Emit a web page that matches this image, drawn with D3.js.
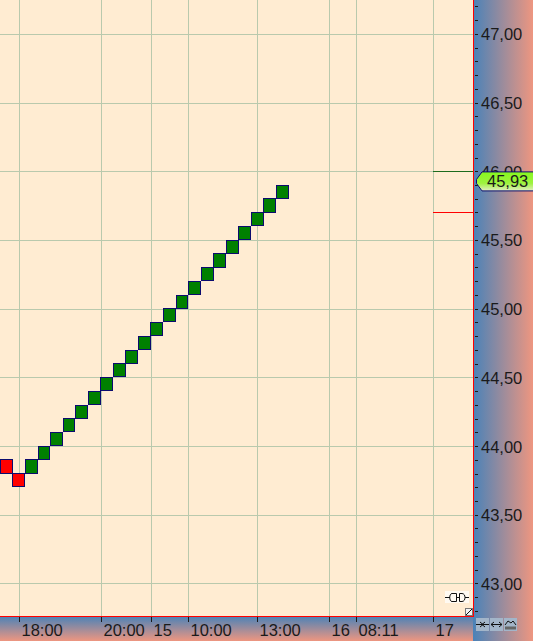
<!DOCTYPE html>
<html>
<head>
<meta charset="utf-8">
<script src="https://cdn.jsdelivr.net/npm/d3@7"></script>
<style>
body { margin: 0; background: #fff; }
svg { display: block; }
text { font-family: "Liberation Sans", sans-serif; fill: #1a1a1a; }
</style>
</head>
<body>
<script>
// point & figure boxes, left to right
var boxValues = [43.85, 43.75, 43.85, 43.95, 44.05, 44.15, 44.25, 44.35, 44.45, 44.55, 44.65, 44.75,
    44.85, 44.95, 45.05, 45.15, 45.25, 45.35, 45.45, 45.55, 45.65, 45.75, 45.85];
var boxColors = ["red", "red", "green", "green", "green", "green", "green", "green", "green", "green", "green", "green",
    "green", "green", "green", "green", "green", "green", "green", "green", "green", "green", "green"];

var priceTicks = [43, 43.5, 44, 44.5, 45, 45.5, 46, 46.5, 47];
var minorTicks = d3.range(428, 476).map(function(d) { return d / 10; });

// time axis, positions are in box numbers
var timePos = [1, 7.57, 11.55, 14.5, 20, 25.74, 27.9, 34];
var timeLabels = ["18:00", "20:00", "15", "10:00", "13:00", "16", "08:11", "17"];

var lastPrice = 45.93;
var levelValues = [46.0, 45.7];
var levelColors = ["#1d6b1d", "#ff0000"];

var width = 533, height = 641;
var plotRight = 473, plotBottom = 616;

var x = d3.scaleLinear().domain([0, 22]).range([6.3, 282.4]);
var y = d3.scaleLinear().domain([43, 47]).range([583.9, 34.4]);

// pixel row of a price line
function rowY(v) {
    return Math.floor(y(v)) + 0.5;
}

var svg = d3.select("body").append("svg")
    .attr("width", width)
    .attr("height", height);

var defs = svg.append("defs");

var sideGrad = defs.append("linearGradient").attr("id", "sideGrad");
sideGrad.append("stop").attr("offset", "0%").attr("stop-color", "#4a82b8");
sideGrad.append("stop").attr("offset", "100%").attr("stop-color", "#ee9680");

var bottomGrad = defs.append("linearGradient").attr("id", "bottomGrad")
    .attr("x2", 0).attr("y2", 1);
bottomGrad.append("stop").attr("offset", "0%").attr("stop-color", "#4a82b8");
bottomGrad.append("stop").attr("offset", "100%").attr("stop-color", "#ee9680");

var labelGrad = defs.append("linearGradient").attr("id", "labelGrad")
    .attr("x2", 0).attr("y2", 1);
labelGrad.append("stop").attr("offset", "0%").attr("stop-color", "#86f81e");
labelGrad.append("stop").attr("offset", "60%").attr("stop-color", "#9ef23e");
labelGrad.append("stop").attr("offset", "100%").attr("stop-color", "#e4eec4");

// backgrounds
svg.append("rect")
    .attr("width", plotRight).attr("height", plotBottom)
    .attr("fill", "#ffecd2");
svg.append("rect")
    .attr("y", plotBottom).attr("width", plotRight + 1).attr("height", height - plotBottom)
    .attr("fill", "url(#bottomGrad)");
svg.append("rect")
    .attr("x", plotRight).attr("width", width - plotRight).attr("height", height)
    .attr("fill", "url(#sideGrad)");

// grid
svg.selectAll(".hgrid")
    .data(priceTicks)
    .enter()
    .append("line")
    .attr("class", "hgrid")
    .attr("x1", 0).attr("x2", plotRight)
    .attr("y1", rowY)
    .attr("y2", rowY)
    .attr("stroke", "#b9c9ad");

svg.selectAll(".vgrid")
    .data(timePos)
    .enter()
    .append("line")
    .attr("class", "vgrid")
    .attr("x1", function(d) { return Math.round(x(d)) + 0.5; })
    .attr("x2", function(d) { return Math.round(x(d)) + 0.5; })
    .attr("y1", 0).attr("y2", plotBottom)
    .attr("stroke", "#b9c9ad");

// level lines at the right
svg.selectAll(".level")
    .data(levelValues)
    .enter()
    .append("line")
    .attr("class", "level")
    .attr("x1", 433).attr("x2", plotRight)
    .attr("y1", rowY)
    .attr("y2", rowY)
    .attr("stroke", function(d, i) { return levelColors[i]; });

// boxes, edges snapped so they touch like the original
function boxLeft(i) { return Math.round(x(i) - 6.4); }
function boxRight(i) { return Math.round(x(i) + 6.4); }
function boxTop(v) { return Math.round(y(v + 0.05) - 0.8); }
function boxBottom(v) { return Math.round(y(v - 0.05) - 0.4); }

svg.selectAll(".box")
    .data(boxValues)
    .enter()
    .append("rect")
    .attr("class", "box")
    .attr("x", function(d, i) { return boxLeft(i) + 0.5; })
    .attr("y", function(d) { return boxTop(d) + 0.5; })
    .attr("width", function(d, i) { return boxRight(i) - boxLeft(i) - 1; })
    .attr("height", function(d) { return boxBottom(d) - boxTop(d) - 1; })
    .attr("fill", function(d, i) { return boxColors[i]; })
    .attr("stroke", "#0b0b6e")
    .attr("stroke-width", 1);

// plot border
svg.append("line")
    .attr("x1", plotRight + 0.5).attr("x2", plotRight + 0.5)
    .attr("y1", 0).attr("y2", plotBottom + 1)
    .attr("stroke", "#ff0000");
svg.append("line")
    .attr("x1", 0).attr("x2", plotRight + 1)
    .attr("y1", plotBottom + 0.5).attr("y2", plotBottom + 0.5)
    .attr("stroke", "#ff0000");

// price axis
svg.selectAll(".minor")
    .data(minorTicks)
    .enter()
    .append("line")
    .attr("class", "minor")
    .attr("x1", 475).attr("x2", 478)
    .attr("y1", rowY)
    .attr("y2", rowY)
    .attr("stroke", "#1a1a1a");

svg.selectAll(".price-label")
    .data(priceTicks)
    .enter()
    .append("text")
    .attr("class", "price-label")
    .attr("x", 481)
    .attr("y", function(d) { return y(d) + 6; })
    .attr("font-size", 16.5)
    .text(function(d) { return d.toFixed(2).replace(".", ","); });

// time axis
svg.selectAll(".time-tick")
    .data(timePos)
    .enter()
    .append("line")
    .attr("class", "time-tick")
    .attr("x1", function(d) { return Math.round(x(d)) + 0.5; })
    .attr("x2", function(d) { return Math.round(x(d)) + 0.5; })
    .attr("y1", 617).attr("y2", 622)
    .attr("stroke", "#1a1a1a");

svg.selectAll(".time-label")
    .data(timePos)
    .enter()
    .append("text")
    .attr("class", "time-label")
    .attr("x", function(d) { return Math.round(x(d)) + 2.5; })
    .attr("y", 636)
    .attr("font-size", 16.5)
    .text(function(d, i) { return timeLabels[i]; });

// last price tag
var tagY = y(lastPrice);
var tag = d3.path();
tag.moveTo(533, tagY - 9.5);
tag.lineTo(482, tagY - 9.5);
tag.lineTo(476.5, tagY - 2);
tag.lineTo(476.5, tagY + 2);
tag.lineTo(482, tagY + 9.5);
tag.lineTo(533, tagY + 9.5);
svg.append("path")
    .attr("d", tag.toString())
    .attr("fill", "url(#labelGrad)")
    .attr("stroke", "#0b0b6e");
svg.append("text")
    .attr("x", 487)
    .attr("y", tagY + 6)
    .attr("font-size", 16.5)
    .text(lastPrice.toFixed(2).replace(".", ","));

// plug icon
svg.append("rect")
    .attr("x", 445).attr("y", 591).attr("width", 24).attr("height", 12).attr("fill", "#fffaf2");
var plug = svg.append("g").attr("fill", "none").attr("stroke", "#111");
plug.append("path").attr("d", "M445 597.5H450M456 597.5H459M465 597.5H469");
plug.append("path").attr("d", "M456.5 593.5H452C449 593.5 449 601.5 452 601.5H456.5Z");
plug.append("path").attr("d", "M459.5 593.5V601.5H462C466 601.5 466 593.5 462 593.5Z");

// corner box
svg.append("rect").attr("x", 465.5).attr("y", 608.5).attr("width", 7).attr("height", 7)
    .attr("fill", "#f4f4f4").attr("stroke", "#777");
svg.append("line").attr("x1", 466).attr("y1", 615).attr("x2", 472).attr("y2", 609)
    .attr("stroke", "#111");

// small buttons
var buttons = svg.selectAll(".btn")
    .data([0, 1, 2])
    .enter()
    .append("g")
    .attr("class", "btn")
    .attr("transform", function(d) { return "translate(" + (476 + d * 14) + ",618)"; });
buttons.append("rect").attr("width", 13).attr("height", 13).attr("fill", "#a3b5c9");
buttons.append("path")
    .attr("fill", "none").attr("stroke", "#111")
    .attr("d", function(d) {
        if (d == 0) return "M0 6.5H13M4 4L7 6.5L4 9M9 4L6 6.5L9 9";
        if (d == 1) return "M1 6.5H12M4 4L1 6.5L4 9M9 4L12 6.5L9 9";
        return "M1 7L4 3L7 5L9 3L12 7";
    });
buttons.filter(function(d) { return d == 2; })
    .append("rect")
    .attr("x", 1).attr("y", 8.5).attr("width", 11).attr("height", 3)
    .attr("fill", "#666");
</script>
</body>
</html>
